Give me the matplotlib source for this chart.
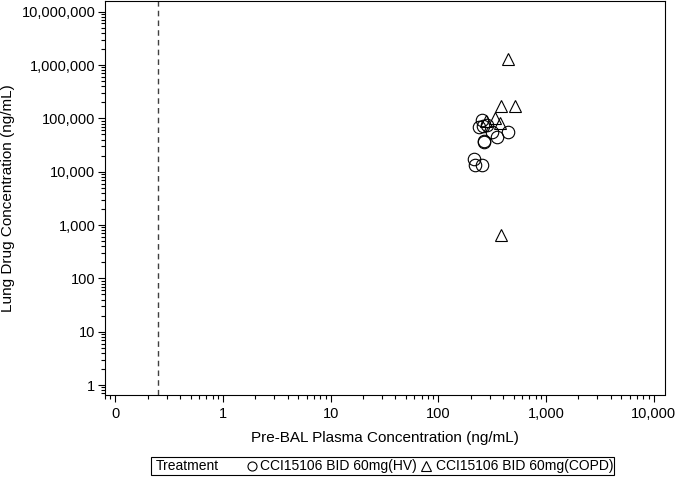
import matplotlib
matplotlib.use("Agg")
import matplotlib.pyplot as plt
from matplotlib.lines import Line2D
from matplotlib.patches import Rectangle
from matplotlib.ticker import LogLocator, FixedLocator, NullFormatter
import numpy as np

plt.rcParams['font.family'] = ['Liberation Sans', 'DejaVu Sans']

# --- data ---
hv_plasma = [254, 240, 262, 282, 314, 352, 440, 268, 264, 216, 220, 256]
hv_lung = [92000, 70000, 72000, 75000, 56000, 44500, 56000, 37500, 36500, 17000, 13500, 13300]

copd_plasma = [443, 380, 510, 334, 280, 378, 384]
copd_lung = [1290000, 170000, 168000, 100000, 91000, 82000, 660]

lloq = 0.25

x_ticks = [0.1, 1, 10, 100, 1000, 10000]
x_ticklabels = ['0', '1', '10', '100', '1,000', '10,000']
y_ticks = [1, 10, 100, 1000, 10000, 100000, 1000000, 10000000]
y_ticklabels = ['1', '10', '100', '1,000', '10,000', '100,000', '1,000,000', '10,000,000']

xlabel = 'Pre-BAL Plasma Concentration (ng/mL)'
ylabel = 'Lung Drug Concentration (ng/mL)'
legend_title = 'Treatment'
hv_label = 'CCI15106 BID 60mg(HV)'
copd_label = 'CCI15106 BID 60mg(COPD)'

W, H = 675, 479
fig = plt.figure(figsize=(W / 100, H / 100), dpi=100)
ax_l, ax_r, ax_t, ax_b = 104.5, 665.3, 1.0, 394.5
ax = fig.add_axes([ax_l / W, 1 - ax_b / H, (ax_r - ax_l) / W, (ax_b - ax_t) / H])

ax.set_xscale('log')
ax.set_yscale('log')
ax.set_xlim(10 ** -1.10, 10 ** 4.108)
ax.set_ylim(10 ** -0.178, 10 ** 7.20)

ms = 9
ax.plot(hv_plasma, hv_lung, ls='none', marker='o', ms=ms, mfc='none', mec='black', mew=0.8)
ax.plot(copd_plasma, copd_lung, ls='none', marker='^', ms=ms, mfc='none', mec='black', mew=0.8)

ax.axvline(lloq, color='#404040', lw=1.0, ls=(0, (4, 3)))

ax.xaxis.set_major_locator(FixedLocator(x_ticks))
ax.set_xticklabels(x_ticklabels)
ax.yaxis.set_major_locator(FixedLocator(y_ticks))
ax.set_yticklabels(y_ticklabels)
ax.xaxis.set_minor_locator(LogLocator(base=10, subs=np.arange(2, 10), numticks=20))
ax.yaxis.set_minor_locator(LogLocator(base=10, subs=np.arange(2, 10), numticks=20))
ax.xaxis.set_minor_formatter(NullFormatter())
ax.yaxis.set_minor_formatter(NullFormatter())

ax.tick_params(which='major', direction='out', length=5, width=0.8, labelsize=10.5)
ax.tick_params(axis='y', which='major', pad=1.5)
ax.tick_params(axis='x', which='major', pad=4)
ax.tick_params(which='minor', direction='out', length=3, width=0.8)
for s in ax.spines.values():
    s.set_linewidth(0.8)

ax.set_xlabel(xlabel, fontsize=11, labelpad=7)
ax.set_ylabel(ylabel, fontsize=11, labelpad=5)

# legend box at the bottom
def fx(px):
    return px / W

def fy(py):
    return 1 - py / H

box_l, box_r, box_t, box_b = 150.7, 614.0, 457.0, 475.0
fig.add_artist(Rectangle((fx(box_l), fy(box_b)), fx(box_r) - fx(box_l), fy(box_t) - fy(box_b),
                         transform=fig.transFigure, fill=False, ec='black', lw=0.8))
ty = fy(466.3)
fig.text(fx(156), ty, legend_title, fontsize=10, va='center', ha='left')
fig.add_artist(Line2D([fx(251.5)], [ty], transform=fig.transFigure, ls='none', marker='o', ms=6.5,
                      mfc='none', mec='black', mew=0.8))
fig.text(fx(260.5), ty, hv_label, fontsize=10, va='center', ha='left')
fig.add_artist(Line2D([fx(426)], [fy(465.6)], transform=fig.transFigure, ls='none', marker='^', ms=6.5,
                      mfc='none', mec='black', mew=0.8))
fig.text(fx(435.5), ty, copd_label, fontsize=10, va='center', ha='left')

fig.savefig('out.png', dpi=100)
